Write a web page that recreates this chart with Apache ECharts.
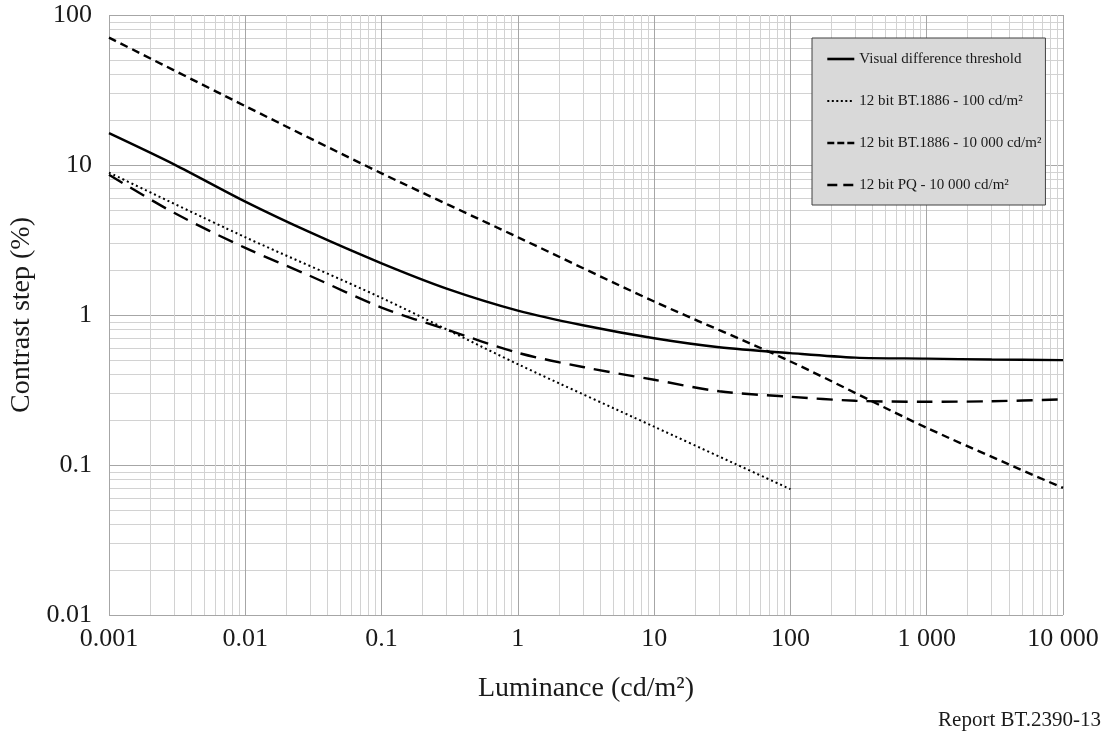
<!DOCTYPE html>
<html>
<head>
<meta charset="utf-8">
<style>
  html, body { margin: 0; padding: 0; background: #fff; }
  #chart { width: 1106px; height: 741px; }
</style>
<script src="https://cdn.jsdelivr.net/npm/echarts@6/dist/echarts.min.js"></script>
</head>
<body>
<div id="chart"></div>
<script>
  // tick labels
  var xTickLabels = ['0.001', '0.01', '0.1', '1', '10', '100', '1 000', '10 000']
  var yTickLabels = ['0.01', '0.1', '1', '10', '100']

  // luminance (cd/m2) where the curves were read
  var lumFull = [0.001, 0.003, 0.01, 0.03, 0.1, 0.3, 1, 3, 10, 30, 100, 300, 1000, 3000, 10000]
  var lum100 = [0.001, 0.01, 0.1, 1, 10, 100]
  var lumDecades = [0.001, 0.01, 0.1, 1, 10, 100, 1000, 10000]

  // contrast step (%)
  var threshold = [16.3, 10.1, 5.7, 3.55, 2.21, 1.5, 1.07, 0.855, 0.70, 0.61, 0.557, 0.52, 0.512, 0.505, 0.50]
  var bt1886_100 = [8.9, 3.3, 1.3, 0.47, 0.18, 0.069]
  var bt1886_10000 = [70.7, 24.7, 8.8, 3.3, 1.23, 0.49, 0.177, 0.0703]
  var pq_10000 = [8.6, 4.8, 2.8, 1.82, 1.12, 0.80, 0.56, 0.45, 0.37, 0.31, 0.285, 0.268, 0.264, 0.266, 0.274]

  var seriesNames = [
    'Visual difference threshold',
    '12 bit BT.1886 - 100 cd/m\u00b2',
    '12 bit BT.1886 - 10 000 cd/m\u00b2',
    '12 bit PQ - 10 000 cd/m\u00b2'
  ]

  function pairs (xs, ys) {
    var out = []
    for (var i = 0; i < xs.length; i++) {
      out.push([xs[i], ys[i]])
    }
    return out
  }

  var serif = '"Liberation Serif", "Times New Roman", serif'
  var textColor = '#1a1a1a'

  var chart = echarts.init(document.getElementById('chart'))
  chart.setOption({
    animation: false,
    backgroundColor: '#fff',
    textStyle: { fontFamily: serif, color: textColor },
    grid: {
      left: 109,
      top: 15,
      right: 43,
      bottom: 126,
      containLabel: false,
      outerBoundsMode: 'none'
    },
    legend: {
      left: 812,
      top: 38,
      orient: 'vertical',
      backgroundColor: '#d9d9d9',
      borderColor: '#404040',
      borderWidth: 1,
      borderRadius: 0,
      padding: [13, 4, 12, 14],
      itemWidth: 27,
      itemHeight: 14,
      itemGap: 26,
      // hide the round marker, keep only the line sample
      itemStyle: { opacity: 0 },
      textStyle: { fontFamily: serif, fontSize: 15, color: textColor, lineHeight: 16 },
      // short samples need their own dash lengths to read like the original
      data: [
        { name: seriesNames[0], lineStyle: { width: 2.6, type: 'solid' } },
        { name: seriesNames[1], lineStyle: { width: 2, type: [2, 2.5] } },
        { name: seriesNames[2], lineStyle: { width: 2.6, type: [7, 3] } },
        { name: seriesNames[3], lineStyle: { width: 2.6, type: [10, 6] } }
      ]
    },
    xAxis: {
      type: 'log',
      logBase: 10,
      min: 0.001,
      max: 10000,
      name: 'Luminance (cd/m\u00b2)',
      nameLocation: 'middle',
      nameGap: 60,
      nameTextStyle: { fontFamily: serif, fontSize: 28, color: textColor },
      axisLine: { show: false },
      axisTick: { show: false },
      axisLabel: {
        margin: 11,
        fontFamily: serif,
        fontSize: 26,
        color: textColor,
        formatter: function (v) {
          return xTickLabels[Math.round(Math.log10(v)) + 3]
        }
      },
      splitLine: { show: true, lineStyle: { color: '#a6a6a6', width: 1 } },
      minorTick: { show: false, splitNumber: 9 },
      minorSplitLine: { show: true, lineStyle: { color: '#d2d2d2', width: 1 } }
    },
    yAxis: {
      type: 'log',
      logBase: 10,
      min: 0.01,
      max: 100,
      name: 'Contrast step (%)',
      nameLocation: 'middle',
      nameGap: 70,
      nameTextStyle: { fontFamily: serif, fontSize: 28, color: textColor },
      axisLine: { show: false },
      axisTick: { show: false },
      axisLabel: {
        margin: 17,
        fontFamily: serif,
        fontSize: 26,
        color: textColor,
        formatter: function (v) {
          return yTickLabels[Math.round(Math.log10(v)) + 2]
        }
      },
      splitLine: { show: true, lineStyle: { color: '#a6a6a6', width: 1 } },
      minorTick: { show: false, splitNumber: 9 },
      minorSplitLine: { show: true, lineStyle: { color: '#d2d2d2', width: 1 } }
    },
    series: [
      {
        name: seriesNames[0],
        type: 'line',
        smooth: 0.3,
        symbol: 'none',
        lineStyle: { color: '#000', width: 2.4, type: 'solid' },
        itemStyle: { color: '#000' },
        data: pairs(lumFull, threshold)
      },
      {
        name: seriesNames[1],
        type: 'line',
        smooth: 0.3,
        symbol: 'none',
        lineStyle: { color: '#000', width: 2, type: [2, 3] },
        itemStyle: { color: '#000' },
        data: pairs(lum100, bt1886_100)
      },
      {
        name: seriesNames[2],
        type: 'line',
        smooth: 0.3,
        symbol: 'none',
        lineStyle: { color: '#000', width: 2.4, type: [8, 5] },
        itemStyle: { color: '#000' },
        data: pairs(lumDecades, bt1886_10000)
      },
      {
        name: seriesNames[3],
        type: 'line',
        smooth: 0.3,
        symbol: 'none',
        lineStyle: { color: '#000', width: 2.4, type: [16, 9] },
        itemStyle: { color: '#000' },
        data: pairs(lumFull, pq_10000)
      }
    ],
    graphic: [
      {
        type: 'text',
        right: 5,
        top: 710,
        style: {
          text: 'Report BT.2390-13',
          font: '21px ' + serif,
          fill: textColor
        }
      }
    ]
  })
</script>
</body>
</html>
